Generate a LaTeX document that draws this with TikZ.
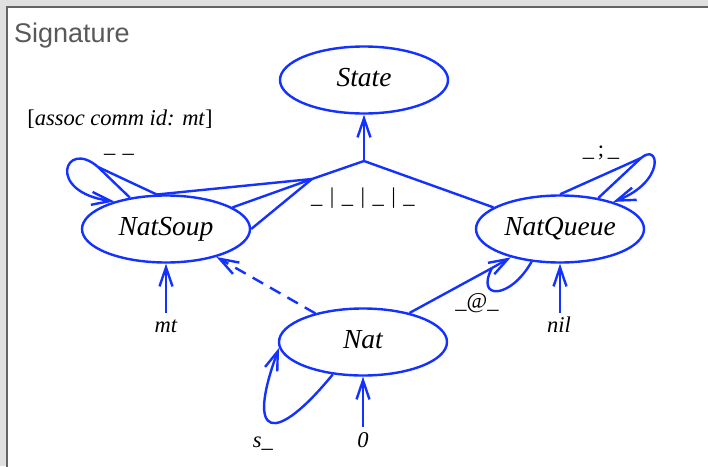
\documentclass[tikz,border=0pt]{standalone}
\usepackage{fontspec}
\setmainfont{Liberation Serif}
\newfontfamily\headfont{Liberation Sans}
\usetikzlibrary{shapes.geometric,arrows.meta}

\definecolor{sortBlue}{RGB}{20,50,255}
\definecolor{frameGray}{RGB}{100,100,100}

\tikzstyle{mySort} = [draw=sortBlue, line width=2.4pt, ellipse,
    minimum width=168pt, minimum height=67pt, inner sep=0pt,
    text height=18pt, text depth=5pt,
    font=\fontsize{27.5}{30}\selectfont\itshape]
\tikzstyle{myOp} = [inner sep=0pt, anchor=base,
    font=\fontsize{22.5}{25}\selectfont]
\tikzstyle{myArc} = [draw=sortBlue, line width=2.4pt]
\tikzstyle{myArrow} = [myArc, -{Straight Barb[length=19pt,width=13pt]}]

\begin{document}
\begin{tikzpicture}[x=1pt,y=-1pt]
\useasboundingbox (0,0) rectangle (708,466);
\fill[black!12] (0,0) rectangle (708,466);
\filldraw[fill=white, draw=frameGray, line width=2.2pt] (7,7) rectangle (730,490);
\node[anchor=base west, inner sep=0pt, text=black!65,
    font=\headfont\fontsize{27}{30}\selectfont] (Title) at (14,42) {Signature};

\node[mySort] (State) at (364,80) {State};
\node[mySort] (NatSoup) at (166,229) {NatSoup};
\node[mySort] (NatQueue) at (560,229) {NatQueue};
\node[mySort] (Nat) at (363,342) {Nat};

\coordinate (jState) at (364,161);
\coordinate (jSoup) at (312,179);
\coordinate (jSoupLoop) at (98,167);
\coordinate (jQueueLoop) at (641,158);
\coordinate (jAt) at (492,268);
\coordinate (mtEnd) at (166,313);
\coordinate (nilEnd) at (560,313);
\coordinate (zeroEnd) at (363,427);

\node[myOp] (assocLbl) at (120,125) {[\textit{assoc comm id: mt}]};
\node[myOp] (soupOp) at (119,152) {\_\,\,\_};
\node[myOp] (stateOp) at (363,203) {\_\,\,|\,\,\_\,\,|\,\,\_\,\,|\,\,\_};
\node[myOp] (queueOp) at (601,156) {\_\,;\,\_};
\node[myOp] (atOp) at (477,308) {\_@\_};
\node[myOp] (mtLbl) at (166,332) {\textit{mt}};
\node[myOp] (nilLbl) at (559,332) {\textit{nil}};
\node[myOp] (zeroLbl) at (363,447) {\textit{0}};
\node[myOp] (succLbl) at (263,447) {\textit{s\_}};

% _|_|_|_
\draw[myArrow] (jState) -- (State);
\draw[myArc] (NatQueue.162) -- (jState) -- (jSoup);
\draw[myArc] (NatSoup.105) -- (jSoup);
\draw[myArc] (NatSoup.18) -- (jSoup);
\draw[myArc] (NatSoup.east) -- (jSoup);

% __
\draw[myArc] (NatSoup.105) -- (jSoupLoop);
\draw[myArc] (NatSoup.139) -- (jSoupLoop);
\draw[myArrow] (jSoupLoop) .. controls (65,138) and (45,192) .. (NatSoup.152);

% _;_
\draw[myArc] (NatQueue.north) -- (jQueueLoop);
\draw[myArc] (NatQueue.39) -- (jQueueLoop);
\draw[myArrow] (jQueueLoop) .. controls (660,142) and (665,182) .. (NatQueue.27);

% _@_
\draw[myArc] (Nat.32) -- (jAt);
\draw[myArc] (NatQueue.229) .. controls (510,300) and (475,300) .. (jAt);
\draw[myArrow] (jAt) -- (NatQueue.210);

% s_
\draw[myArrow] (Nat.227) .. controls (275,445) and (245,440) .. (Nat.184);

% constants
\draw[myArrow] (mtEnd) -- (NatSoup);
\draw[myArrow] (nilEnd) -- (NatQueue);
\draw[myArrow] (zeroEnd) -- (Nat);

% subsort
\draw[myArrow, dash pattern=on 12pt off 8pt] (Nat.149) -- (NatSoup.331);
\end{tikzpicture}
\end{document}
